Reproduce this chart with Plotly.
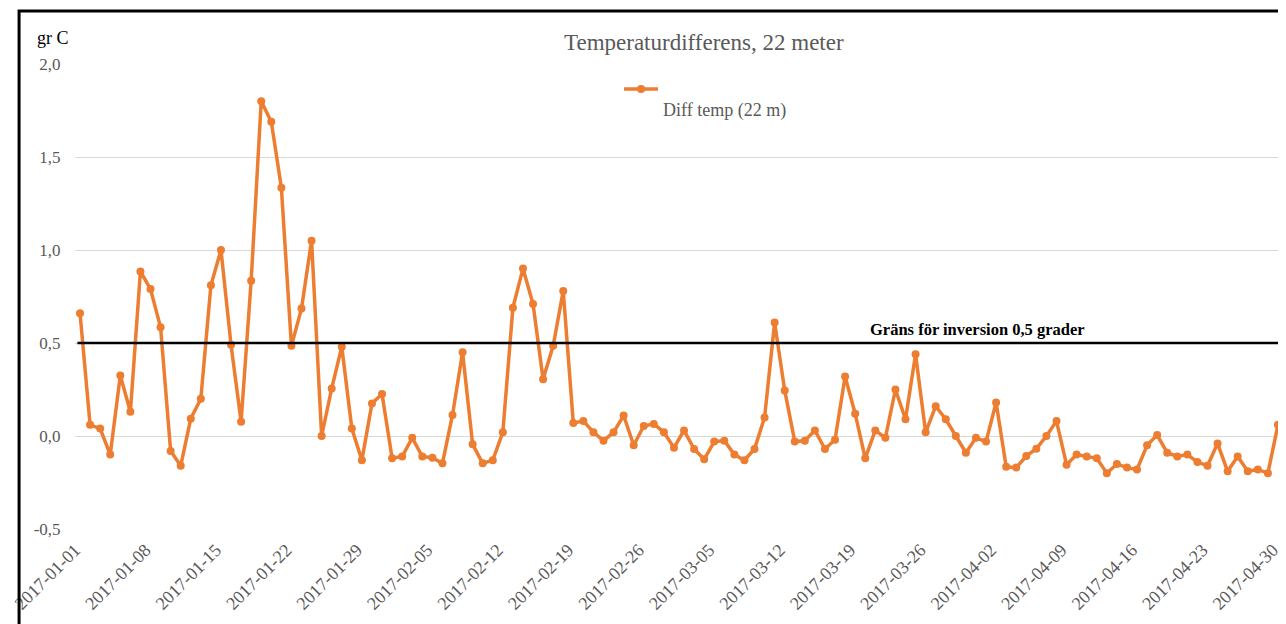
import pandas as pd
import plotly.graph_objects as go

start_date = "2017-01-01"
diff_temp = [
    0.66, 0.06, 0.04, -0.10, 0.325, 0.13, 0.885, 0.79, 0.585, -0.08,
    -0.16, 0.093, 0.20, 0.81, 1.00, 0.49, 0.077, 0.835, 1.80, 1.69,
    1.335, 0.485, 0.685, 1.05, 0.00, 0.256, 0.48, 0.04, -0.13, 0.175,
    0.226, -0.12, -0.11, -0.01, -0.11, -0.117, -0.147, 0.113, 0.45, -0.045,
    -0.147, -0.13, 0.02, 0.69, 0.90, 0.71, 0.305, 0.485, 0.78, 0.07,
    0.08, 0.02, -0.025, 0.02, 0.11, -0.05, 0.054, 0.065, 0.02, -0.063,
    0.03, -0.07, -0.125, -0.03, -0.025, -0.10, -0.13, -0.07, 0.10, 0.61,
    0.245, -0.03, -0.025, 0.03, -0.07, -0.02, 0.32, 0.12, -0.12, 0.03,
    -0.01, 0.25, 0.09, 0.44, 0.02, 0.16, 0.09, 0.00, -0.09, -0.01,
    -0.03, 0.18, -0.165, -0.17, -0.108, -0.068, 0.00, 0.08, -0.154, -0.10,
    -0.11, -0.12, -0.20, -0.15, -0.17, -0.18, -0.05, 0.005, -0.09, -0.11,
    -0.10, -0.14, -0.16, -0.04, -0.19, -0.11, -0.19, -0.18, -0.20, 0.06,
]
dates = pd.date_range(start_date, periods=len(diff_temp), freq="D")
tick_dates = pd.date_range(start_date, dates[-1], freq="7D")
y_ticks = [-0.5, 0.0, 0.5, 1.0, 1.5, 2.0]
threshold = 0.5

series_name = "Diff temp (22 m)"
title_text = "Temperaturdifferens, 22 meter"
y_unit = "gr C"
threshold_label = "Gräns för inversion 0,5 grader"

ORANGE = "#ED7D31"
GRAY = "#595959"
GRID = "#D9D9D9"
FONT = "Liberation Serif"

fig = go.Figure()
fig.add_trace(go.Scatter(
    x=dates, y=diff_temp, mode="lines+markers", name=series_name,
    line=dict(color=ORANGE, width=3.5),
    marker=dict(color=ORANGE, size=8, symbol="circle"),
    showlegend=False,
))

# threshold line
fig.add_shape(type="line", xref="paper", x0=0.002, x1=1.0, yref="y",
              y0=threshold, y1=threshold, line=dict(color="black", width=2.5), layer="above")

# outer frame
fig.add_shape(type="rect", xref="paper", yref="paper", x0=-0.0463, x1=1.0012,
              y0=-0.30, y1=1.114, line=dict(color="black", width=3), fillcolor="rgba(0,0,0,0)")

# custom legend
fig.add_shape(type="line", xref="paper", yref="paper", x0=0.4545, x1=0.4826,
              y0=0.9462, y1=0.9462, line=dict(color=ORANGE, width=3.5))
fig.add_shape(type="circle", xref="paper", yref="paper", x0=0.4686 - 0.0034, x1=0.4686 + 0.0034,
              y0=0.9462 - 0.0088, y1=0.9462 + 0.0088, line=dict(color=ORANGE, width=0), fillcolor=ORANGE)

annotations = [
    dict(text=title_text, x=0.5207, y=1.047, xref="paper", yref="paper", showarrow=False,
         xanchor="center", yanchor="middle", font=dict(family=FONT, size=23, color=GRAY)),
    dict(text=y_unit, x=-0.018, y=1.056, xref="paper", yref="paper", showarrow=False,
         xanchor="center", yanchor="middle", font=dict(family=FONT, size=18, color="black")),
    dict(text=series_name, x=0.538, y=0.899, xref="paper", yref="paper", showarrow=False,
         xanchor="center", yanchor="middle", font=dict(family=FONT, size=18, color=GRAY)),
    dict(text="<b>" + threshold_label + "</b>", x=0.747, y=threshold, xref="paper", yref="y",
         showarrow=False, xanchor="center", yanchor="bottom", yshift=2,
         font=dict(family=FONT, size=16.5, color="black")),
]

fig.update_layout(
    width=1278, height=616,
    margin=dict(l=65, r=3, t=56, b=95),
    paper_bgcolor="white", plot_bgcolor="white",
    separators=", ",
    font=dict(family=FONT, color=GRAY),
    annotations=annotations,
    showlegend=False,
)
fig.update_xaxes(
    type="date",
    range=[dates[0] - pd.Timedelta(hours=12), dates[-1] + pd.Timedelta(hours=12)],
    tickvals=tick_dates, ticktext=[d.strftime("%Y-%m-%d") for d in tick_dates],
    tickangle=-45, tickfont=dict(family=FONT, size=18, color=GRAY),
    ticklabelshift=-5, ticklabelstandoff=6,
    showgrid=False, zeroline=False, showline=False, ticks="",
)
fig.update_yaxes(
    range=[-0.5, 2.0], tickvals=y_ticks,
    ticktext=[f"{v:.1f}".replace(".", ",") for v in y_ticks],
    tickfont=dict(family=FONT, size=17, color=GRAY),
    showgrid=True, gridcolor=GRID, gridwidth=1,
    zeroline=False, showline=False,
    ticks="outside", ticklen=10, tickcolor="rgba(0,0,0,0)",
)

fig.write_html("out.html")
